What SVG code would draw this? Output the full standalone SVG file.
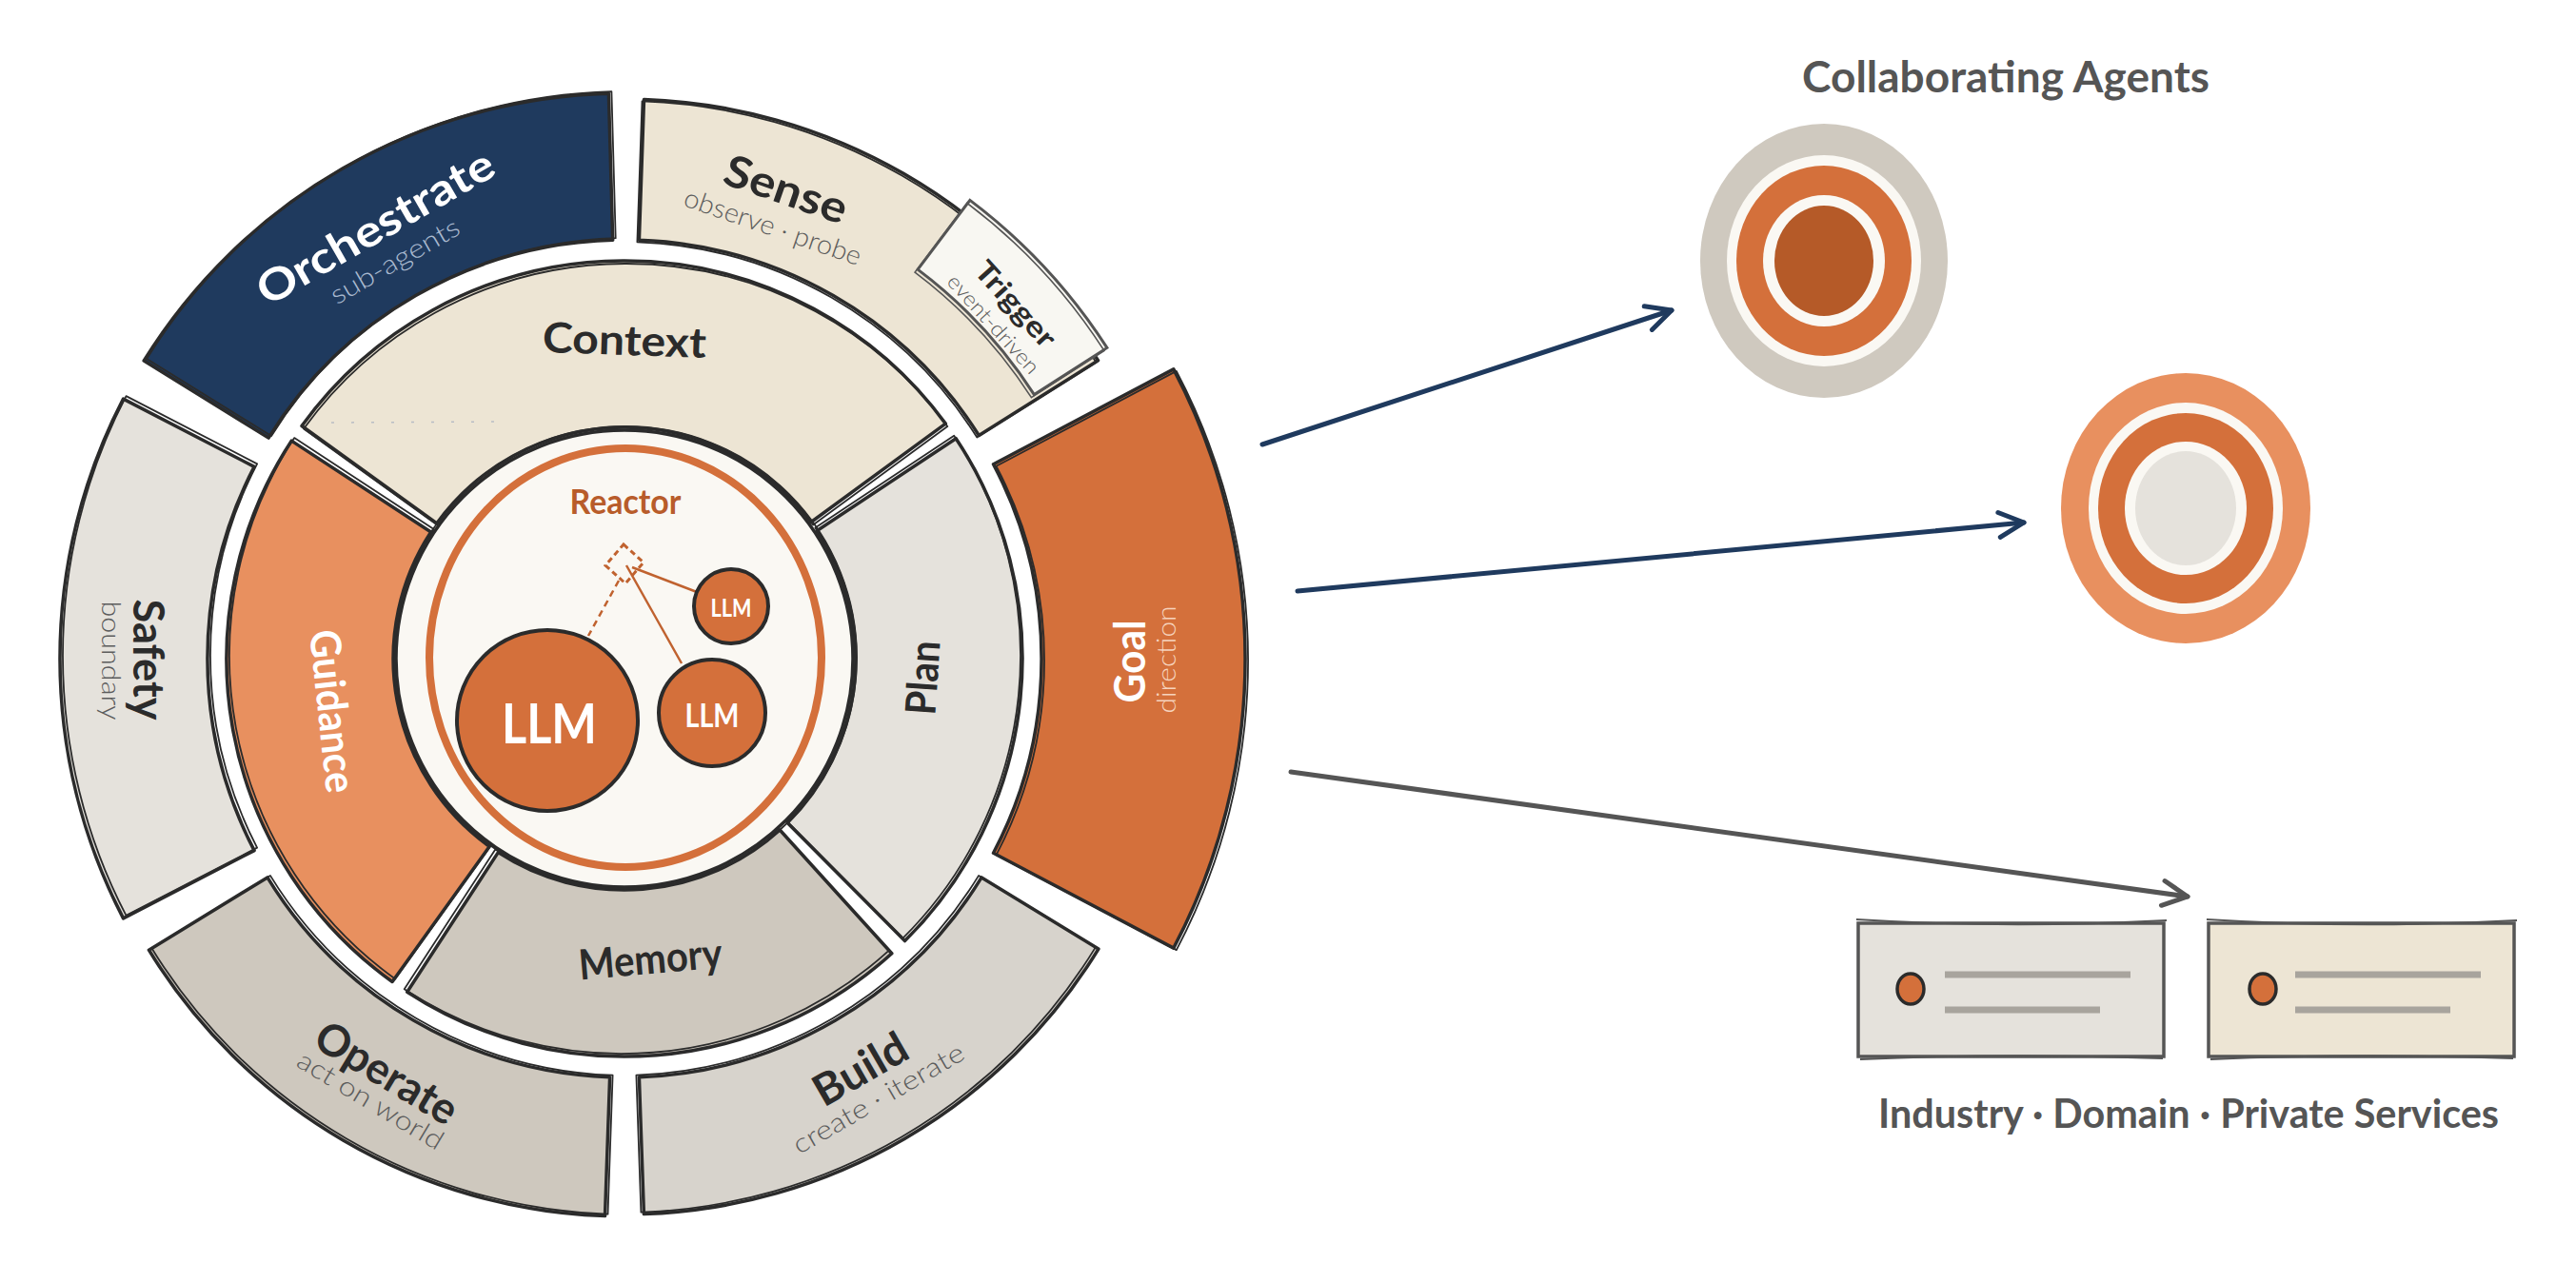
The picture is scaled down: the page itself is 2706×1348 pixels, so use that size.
<svg xmlns="http://www.w3.org/2000/svg" xmlns:xlink="http://www.w3.org/1999/xlink" width="2706" height="1348" viewBox="0 0 2706 1348">
<defs>
<style>
.seg{stroke:#2b2b2b;stroke-width:3.5;stroke-linejoin:round}
.sk{fill:none;stroke:#2b2b2b;stroke-width:1.8;stroke-linejoin:round}
.navy{fill:#1f3a5e}.beige{fill:#ede5d4}.lgrey{fill:#e5e2dc}.mgrey{fill:#cec8be}.bgrey{fill:#d7d3cc}.orange{fill:#d4703b}.lorange{fill:#e8905f}
.t{font-family:Lato,"Liberation Sans",sans-serif;font-weight:700;text-anchor:middle;dominant-baseline:central}
.s{font-family:Lato,"Liberation Sans",sans-serif;font-weight:300;text-anchor:middle;dominant-baseline:central}
.dark{fill:#2b2b2b}.subg{fill:#5c5c5c}
.arrow{fill:none;stroke-width:5;stroke-linecap:round}
.bar{stroke:#a8a49d;stroke-width:7;stroke-linecap:butt}
.box{stroke:#555;stroke-width:3.5}
.off{fill:#faf8f3}
</style>
<marker id="ahN" viewBox="-32 -18 36 36" refX="0" refY="0" markerWidth="36" markerHeight="36" markerUnits="userSpaceOnUse" orient="auto"><path d="M-26,-13 L0,0 L-26,13" fill="none" stroke="#1f3a5e" stroke-width="5" stroke-linecap="round" stroke-linejoin="round"/></marker>
<marker id="ahG" viewBox="-32 -18 36 36" refX="0" refY="0" markerWidth="36" markerHeight="36" markerUnits="userSpaceOnUse" orient="auto"><path d="M-26,-13 L0,0 L-26,13" fill="none" stroke="#555" stroke-width="5" stroke-linecap="round" stroke-linejoin="round"/></marker>
<path id="p-context" d="M196.1,-143.5 L337.3,-246.9 A418,418 0 0 0 -339.0,-244.5 L-197.1,-142.2 A243,243 0 0 1 196.1,-143.5 Z"/>
<path id="p-guidance" d="M-203.3,-133.0 L-349.8,-228.9 A418,418 0 0 0 -243.9,339.5 L-141.8,197.3 A243,243 0 0 1 -203.3,-133.0 Z"/>
<path id="p-memory" d="M-132.7,203.6 L-228.3,350.2 A418,418 0 0 0 280.8,309.7 L163.2,180.0 A243,243 0 0 1 -132.7,203.6 Z"/>
<path id="p-plan" d="M171.2,172.4 L294.5,296.6 A418,418 0 0 0 348.2,-231.3 L202.4,-134.5 A243,243 0 0 1 171.2,172.4 Z"/>
<path id="p-sense" d="M372.3,-234.5 L497.5,-313.3 A588,588 0 0 0 20.5,-587.6 L15.4,-439.7 A440,440 0 0 1 372.3,-234.5 Z"/>
<path id="p-orch" d="M-12.3,-439.8 L-16.6,-593.8 A594,594 0 0 0 -504.8,-313.0 L-373.9,-231.9 A440,440 0 0 1 -12.3,-439.8 Z"/>
<path id="p-safety" d="M-388.9,-201.6 L-526.5,-272.9 A593,593 0 0 0 -526.5,272.9 L-388.9,201.6 A438,438 0 0 1 -388.9,-201.6 Z"/>
<path id="p-operate" d="M-375.1,229.9 L-499.6,306.2 A586,586 0 0 0 -20.5,585.6 L-15.4,439.7 A440,440 0 0 1 -375.1,229.9 Z"/>
<path id="p-build" d="M15.4,439.7 L20.4,583.6 A584,584 0 0 0 497.9,305.1 L375.1,229.9 A440,440 0 0 1 15.4,439.7 Z"/>
<path id="p-goal" d="M387.5,204.3 L576.8,304.1 A652,652 0 0 0 576.8,-304.1 L387.5,-204.3 A438,438 0 0 1 387.5,204.3 Z"/>
<path id="p-trigger" d="M430.4,-277.4 L506.9,-326.6 A603,603 0 0 0 362.9,-481.6 L308.1,-408.9 A512,512 0 0 1 430.4,-277.4 Z"/>
</defs>
<rect width="2706" height="1348" fill="#ffffff"/>

<g id="wheel" transform="translate(656,692)">
  <g id="node-orchestrate">
    <use xlink:href="#p-orch" class="seg navy"/>
    <use xlink:href="#p-orch" class="sk" transform="translate(3,-2)"/>
    <text class="t" transform="translate(-262.5,-454.7) rotate(-30)" font-size="46" fill="#ffffff" textLength="280" lengthAdjust="spacingAndGlyphs">Orchestrate</text>
    <text class="s" transform="translate(-242,-419) rotate(-30)" font-size="28" fill="#a9b9cf" textLength="152" lengthAdjust="spacingAndGlyphs">sub-agents</text>
  </g>
  <g id="node-sense">
    <use xlink:href="#p-sense" class="seg beige"/>
    <use xlink:href="#p-sense" class="sk" transform="translate(-2,2)"/>
    <text class="t dark" transform="translate(170.3,-494.5) rotate(19)" font-size="46" textLength="134" lengthAdjust="spacingAndGlyphs">Sense</text>
    <text class="s subg" transform="translate(156.3,-455) rotate(19)" font-size="28" textLength="195" lengthAdjust="spacingAndGlyphs">observe · probe</text>
  </g>
  <g id="node-trigger">
    <use xlink:href="#p-trigger" fill="#f8f7f2" stroke="#555" stroke-width="3"/>
    <use xlink:href="#p-trigger" fill="none" stroke="#555" stroke-width="1.6" transform="translate(-3,3)"/>
    <text class="t dark" transform="translate(411.9,-373.5) rotate(47.8)" font-size="30" textLength="111" lengthAdjust="spacingAndGlyphs">Trigger</text>
    <text class="s subg" transform="translate(388.2,-352) rotate(47.8)" font-size="22" textLength="132" lengthAdjust="spacingAndGlyphs">event-driven</text>
  </g>
  <g id="node-goal">
    <use xlink:href="#p-goal" class="seg orange"/>
    <use xlink:href="#p-goal" class="sk" transform="translate(3,2)"/>
    <text class="t" transform="translate(529,3) rotate(-90)" font-size="46" fill="#ffffff" textLength="87" lengthAdjust="spacingAndGlyphs">Goal</text>
    <text class="s" transform="translate(568,1) rotate(-90)" font-size="28" fill="#f6d3bd" textLength="113" lengthAdjust="spacingAndGlyphs">direction</text>
  </g>
  <g id="node-build">
    <use xlink:href="#p-build" class="seg bgrey"/>
    <use xlink:href="#p-build" class="sk" transform="translate(-3,-2)"/>
    <text class="t dark" transform="translate(247,430) rotate(-30)" font-size="46" textLength="107" lengthAdjust="spacingAndGlyphs">Build</text>
    <text class="s subg" transform="translate(266,461) rotate(-30)" font-size="28" textLength="203" lengthAdjust="spacingAndGlyphs">create · iterate</text>
  </g>
  <g id="node-operate">
    <use xlink:href="#p-operate" class="seg mgrey"/>
    <use xlink:href="#p-operate" class="sk" transform="translate(3,-2)"/>
    <text class="t dark" transform="translate(-249,434) rotate(31)" font-size="46" textLength="166" lengthAdjust="spacingAndGlyphs">Operate</text>
    <text class="s subg" transform="translate(-266,463) rotate(31)" font-size="28" textLength="174" lengthAdjust="spacingAndGlyphs">act on world</text>
  </g>
  <g id="node-safety">
    <use xlink:href="#p-safety" class="seg lgrey"/>
    <use xlink:href="#p-safety" class="sk" transform="translate(3,-3)"/>
    <text class="t dark" transform="translate(-499,1) rotate(90)" font-size="46" textLength="127" lengthAdjust="spacingAndGlyphs">Safety</text>
    <text class="s subg" transform="translate(-538,2) rotate(90)" font-size="28" textLength="125" lengthAdjust="spacingAndGlyphs">boundary</text>
  </g>

  <g id="node-context">
    <use xlink:href="#p-context" class="seg beige"/>
    <use xlink:href="#p-context" class="sk" transform="translate(2,3)"/>
    <line x1="-308" y1="-248" x2="-121" y2="-249" stroke="#b9bdc4" stroke-width="1.5" stroke-dasharray="3 18"/>
    <text class="t dark" transform="translate(0,-336) rotate(2)" font-size="44" textLength="172" lengthAdjust="spacingAndGlyphs">Context</text>
  </g>
  <g id="node-plan">
    <use xlink:href="#p-plan" class="seg lgrey"/>
    <use xlink:href="#p-plan" class="sk" transform="translate(-2,-3)"/>
    <text class="t dark" transform="translate(312,20) rotate(-86)" font-size="44" textLength="78" lengthAdjust="spacingAndGlyphs">Plan</text>
  </g>
  <g id="node-memory">
    <use xlink:href="#p-memory" class="seg mgrey"/>
    <use xlink:href="#p-memory" class="sk" transform="translate(-3,-3)"/>
    <text class="t dark" transform="translate(27,314) rotate(-5)" font-size="44" textLength="151" lengthAdjust="spacingAndGlyphs">Memory</text>
  </g>
  <g id="node-guidance">
    <use xlink:href="#p-guidance" class="seg lorange"/>
    <use xlink:href="#p-guidance" class="sk" transform="translate(3,-3)"/>
    <text class="t" transform="translate(-305,55) rotate(84)" font-size="44" fill="#ffffff" textLength="172" lengthAdjust="spacingAndGlyphs">Guidance</text>
  </g>

  <g id="node-reactor">
    <circle r="240" fill="#faf8f3" stroke="#2b2b2b" stroke-width="3.5"/>
    <circle cx="1" cy="-1" r="243" fill="none" stroke="#2b2b2b" stroke-width="1.8"/>
    <ellipse cx="1" cy="-1" rx="206" ry="220" fill="none" stroke="#d4703b" stroke-width="8"/>
    <text class="t" x="1" y="-166" font-size="36" fill="#b85c2a" font-weight="600" textLength="117" lengthAdjust="spacingAndGlyphs">Reactor</text>
    <polygon points="-1,-120 20,-101 1,-79 -20,-98" fill="none" stroke="#c0622f" stroke-width="3" stroke-dasharray="6 4"/>
    <line x1="-6" y1="-82" x2="-38" y2="-24" stroke="#c0622f" stroke-width="2.5" stroke-dasharray="7 5"/>
    <line x1="2" y1="-98" x2="60" y2="5" stroke="#c0622f" stroke-width="2.5"/>
    <line x1="8" y1="-96" x2="76" y2="-70" stroke="#c0622f" stroke-width="2.5"/>
  </g>
  <g id="node-llm-1">
    <circle cx="-81" cy="65" r="95" fill="#d4703b" stroke="#2b2b2b" stroke-width="4"/>
    <text class="t" x="-79" y="66" font-size="58" fill="#ffffff" textLength="100" lengthAdjust="spacingAndGlyphs">LLM</text>
  </g>
  <g id="node-llm-2">
    <circle cx="92" cy="57" r="56" fill="#d4703b" stroke="#2b2b2b" stroke-width="4"/>
    <text class="t" x="92" y="58" font-size="35" fill="#ffffff" textLength="57" lengthAdjust="spacingAndGlyphs">LLM</text>
  </g>
  <g id="node-llm-3">
    <circle cx="112" cy="-55" r="39" fill="#d4703b" stroke="#2b2b2b" stroke-width="4"/>
    <text class="t" x="112" y="-54" font-size="26" fill="#ffffff" textLength="43" lengthAdjust="spacingAndGlyphs">LLM</text>
  </g>
</g>

<g id="connectors">
  <path d="M1326,467 L1756,326" class="arrow" stroke="#1f3a5e" marker-end="url(#ahN)"/>
  <path d="M1363,621 L2126,549" class="arrow" stroke="#1f3a5e" marker-end="url(#ahN)"/>
  <path d="M1356,811 L2298,942" class="arrow" stroke="#555" marker-end="url(#ahG)"/>
</g>

<g id="node-agents-title">
  <text x="2107" y="97" font-family="Lato, 'Liberation Sans', sans-serif" font-weight="700" font-size="46" fill="#555" text-anchor="middle" textLength="428" lengthAdjust="spacingAndGlyphs">Collaborating Agents</text>
</g>
<g id="node-agent-1" transform="translate(1916,274)">
  <ellipse rx="130" ry="144" fill="#cfc9bf"/>
  <ellipse rx="102" ry="111" class="off"/>
  <ellipse rx="92" ry="100" fill="#d4703b"/>
  <ellipse rx="64" ry="69" class="off"/>
  <ellipse rx="52" ry="58" fill="#b55a28"/>
  <ellipse cx="2" cy="-2" rx="97" ry="106" fill="none" stroke="#faf8f3" stroke-width="1.5"/>
  <ellipse cx="-2" cy="1" rx="58" ry="64" fill="none" stroke="#faf8f3" stroke-width="1.5"/>
</g>
<g id="node-agent-2" transform="translate(2296,534)">
  <ellipse rx="131" ry="142" fill="#e8905f"/>
  <ellipse rx="102" ry="111" class="off"/>
  <ellipse rx="92" ry="100" fill="#d4703b"/>
  <ellipse rx="64" ry="70" class="off"/>
  <ellipse rx="53" ry="60" fill="#e5e2dc"/>
  <ellipse cx="2" cy="-2" rx="97" ry="106" fill="none" stroke="#faf8f3" stroke-width="1.5"/>
  <ellipse cx="-2" cy="1" rx="58" ry="65" fill="none" stroke="#faf8f3" stroke-width="1.5"/>
</g>

<g id="node-service-1">
  <rect x="1952" y="970" width="321" height="140" fill="#e5e2dc" class="box"/>
  <path d="M1950,966 Q2110,976 2276,967 M1954,1113 Q2110,1106 2272,1112" fill="none" stroke="#555" stroke-width="1.8"/>
  <ellipse cx="2007" cy="1039" rx="14" ry="16" fill="#d4703b" stroke="#2b2b2b" stroke-width="3.5"/>
  <line x1="2043" y1="1024" x2="2238" y2="1024" class="bar"/>
  <line x1="2043" y1="1061" x2="2206" y2="1061" class="bar"/>
</g>
<g id="node-service-2">
  <rect x="2320" y="970" width="321" height="140" fill="#ede5d4" class="box"/>
  <path d="M2318,966 Q2478,976 2644,967 M2322,1113 Q2478,1106 2640,1112" fill="none" stroke="#555" stroke-width="1.8"/>
  <ellipse cx="2377" cy="1039" rx="14" ry="16" fill="#d4703b" stroke="#2b2b2b" stroke-width="3.5"/>
  <line x1="2411" y1="1024" x2="2606" y2="1024" class="bar"/>
  <line x1="2411" y1="1061" x2="2574" y2="1061" class="bar"/>
</g>
<g id="node-services-label">
  <text x="2299" y="1185" font-family="Lato, 'Liberation Sans', sans-serif" font-weight="700" font-size="42" fill="#555" text-anchor="middle" textLength="652" lengthAdjust="spacingAndGlyphs">Industry · Domain · Private Services</text>
</g>
</svg>
